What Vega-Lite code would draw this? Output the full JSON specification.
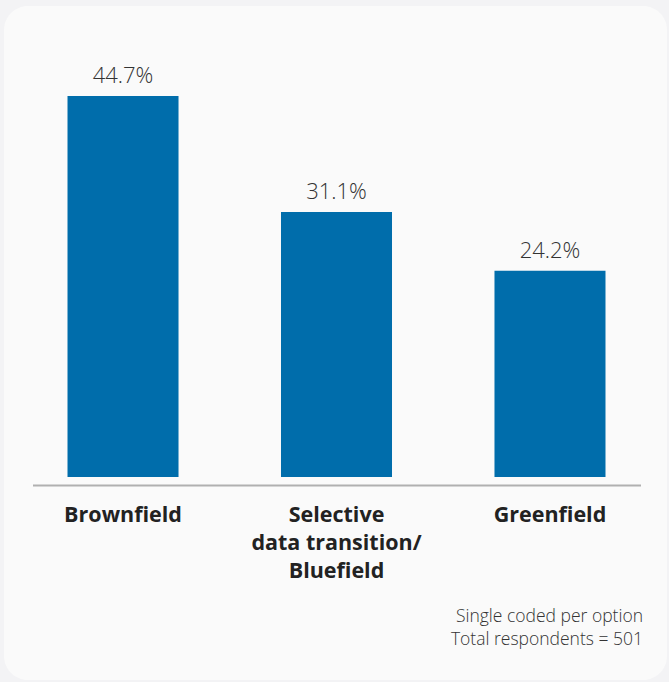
{
  "$schema": "https://vega.github.io/schema/vega-lite/v6.json",
  "width": 663,
  "height": 674,
  "autosize": "none",
  "padding": {"left": 4, "top": 6, "right": 2, "bottom": 2},
  "background": "#f3f3f5",
  "config": {
    "font": "Open Sans",
    "view": {"fill": "#fafafa", "cornerRadius": 24, "stroke": null}
  },
  "title": {
    "text": ["Single coded per option", "Total respondents = 501"],
    "orient": "bottom",
    "anchor": "end",
    "frame": "group",
    "dx": -24,
    "offset": -72,
    "fontSize": 17.5,
    "fontWeight": 300,
    "color": "#333333",
    "lineHeight": 23,
    "align": "right"
  },
  "data": {
    "values": [
      {"option": "Brownfield", "value": 44.7, "label": "44.7%"},
      {"option": "Selective|data transition/|Bluefield", "value": 31.1, "label": "31.1%"},
      {"option": "Greenfield", "value": 24.2, "label": "24.2%"}
    ]
  },
  "encoding": {
    "x": {
      "field": "option",
      "type": "nominal",
      "sort": null,
      "scale": {"range": [28.5, 636.5], "paddingInner": 0.48, "paddingOuter": 0.164},
      "axis": {
        "orient": "bottom",
        "offset": -195,
        "title": null,
        "domainColor": "#b0b0b0",
        "domainWidth": 2,
        "ticks": false,
        "labelAngle": 0,
        "labelPadding": 19,
        "labelFontSize": 21.5,
        "labelFontWeight": "bold",
        "labelColor": "#222222",
        "labelLineHeight": 28.3,
        "labelExpr": "split(datum.label, '|')"
      }
    },
    "y": {
      "field": "value",
      "type": "quantitative",
      "scale": {"domain": [-23.82, 55.26], "zero": false, "nice": false},
      "axis": null
    }
  },
  "layer": [
    {
      "mark": {"type": "bar", "color": "#006dab"},
      "encoding": {"y2": {"datum": 0}}
    },
    {
      "mark": {"type": "text", "baseline": "alphabetic", "dy": -13, "fontSize": 22, "fontWeight": 300, "color": "#333333"},
      "encoding": {"text": {"field": "label"}}
    }
  ]
}
